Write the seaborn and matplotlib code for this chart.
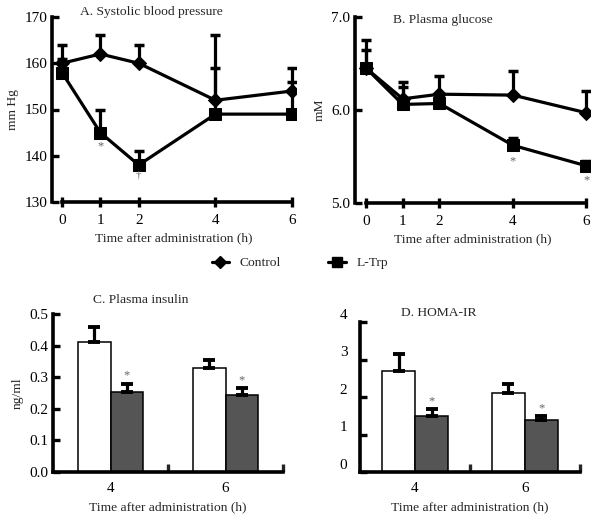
import numpy as np
import pandas as pd
import matplotlib.pyplot as plt
from matplotlib.lines import Line2D
from matplotlib.transforms import ScaledTranslation
import seaborn as sns

# data
times = [0, 1, 2, 4, 6]
sbp_ctrl = [160, 162, 160, 152, 154]
sbp_ctrl_err = [4, 4, 4, 14, 5]
sbp_trp = [158, 145, 138, 149, 149]
sbp_trp_err = [3, 5, 3, 10, 7]

glu_ctrl = [6.45, 6.12, 6.17, 6.16, 5.97]
glu_ctrl_err = [0.30, 0.18, 0.20, 0.26, 0.23]
glu_trp = [6.45, 6.06, 6.07, 5.62, 5.40]
glu_trp_err = [0.20, 0.19, 0.08, 0.08, 0.05]

bar_times = ['4', '6']
groups = ['Control', 'L-Trp']
ins_ctrl = [0.41, 0.33]
ins_ctrl_err = [0.05, 0.025]
ins_trp = [0.252, 0.245]
ins_trp_err = [0.028, 0.02]

homa_ctrl = [2.7, 2.1]
homa_ctrl_err = [0.45, 0.25]
homa_trp = [1.5, 1.4]
homa_trp_err = [0.18, 0.1]

sns.set_style('ticks')
plt.rcParams['font.family'] = ['Liberation Serif', 'DejaVu Serif']
plt.rcParams['font.size'] = 9.5

fig = plt.figure(figsize=(6, 5.23), dpi=100)
W, H = 600, 523
TICK_FS = 11
LAB_FS = 9.7


def px_axes(l, t, r, b):
    return fig.add_axes([l / W, 1 - b / H, (r - l) / W, (b - t) / H])


def style_axes(ax):
    for s in ['top', 'right']:
        ax.spines[s].set_visible(False)
    for s in ['left', 'bottom']:
        ax.spines[s].set_linewidth(2.6)
        ax.spines[s].set_color('black')
    ax.tick_params(direction='in', length=5, width=2.4, colors='black', labelsize=TICK_FS)


def line_panel(ax, ctrl, ce, trp, te, ylim, yticks, fmt):
    sns.lineplot(x=times, y=ctrl, marker='D', markersize=7.5, color='black',
                 linewidth=2.3, markeredgecolor='black', ax=ax)
    sns.lineplot(x=times, y=trp, marker='s', markersize=8, color='black',
                 linewidth=2.3, markeredgecolor='black', ax=ax)
    ax.errorbar(times, ctrl, yerr=[np.zeros(len(ce)), ce], fmt='none',
                ecolor='black', elinewidth=2.3, capsize=3.5, capthick=2.5)
    ax.errorbar(times, trp, yerr=[np.zeros(len(te)), te], fmt='none',
                ecolor='black', elinewidth=2.3, capsize=3.5, capthick=2.5)
    style_axes(ax)
    ax.set_ylim(*ylim)
    ax.set_yticks(yticks)
    ax.set_yticklabels([fmt.format(v) for v in yticks])
    ax.set_xticks(times)
    ax.spines['bottom'].set_bounds(0, 6)
    ax.set_xlabel('Time after administration (h)', fontsize=LAB_FS)
    ax.tick_params(axis='x', direction='inout', length=7, pad=5)


def bar_panel(ax, ctrl, ce, trp, te, ylim, yticks, fmt, width):
    df = pd.DataFrame({'time': bar_times * 2,
                       'group': [groups[0]] * 2 + [groups[1]] * 2,
                       'value': ctrl + trp})
    sns.barplot(data=df, x='time', y='value', hue='group', hue_order=groups,
                palette=['white', '#555555'], edgecolor='black', linewidth=1.1,
                width=width, errorbar=None, legend=False, ax=ax)
    bars = [p for p in ax.patches][:4]
    xs = [p.get_x() + p.get_width() / 2 for p in bars]
    tops = [p.get_height() for p in bars]
    errs = ce + te
    ax.errorbar(xs, tops, yerr=[np.zeros(4), errs], fmt='none', ecolor='black',
                elinewidth=2.3, capsize=4, capthick=2.8)
    style_axes(ax)
    ax.set_xlim(-0.5, 1.5)
    ax.set_ylim(*ylim)
    ax.set_yticks(yticks)
    ax.set_yticklabels([fmt.format(v) for v in yticks])
    ax.set_xticks([0, 1])
    ax.set_xticks([0.5, 1.5], minor=True)
    ax.tick_params(axis='x', which='major', length=0, pad=7)
    ax.tick_params(axis='x', which='minor', direction='in', length=6, width=2.4)
    ax.set_xlabel('Time after administration (h)', fontsize=LAB_FS, labelpad=5)
    ax.set_ylabel('')
    for x, t, e in zip(xs[2:], tops[2:], te):
        ax.text(x, t + e + (ylim[1] - ylim[0]) * 0.05, '*', ha='center',
                va='center', color='#666666', fontsize=9)
    return xs


# A. systolic blood pressure
axA = px_axes(52, 17, 296, 202)
line_panel(axA, sbp_ctrl, sbp_ctrl_err, sbp_trp, sbp_trp_err,
           (130, 170), [130, 140, 150, 160, 170], '{:.0f}')
axA.set_xlim(-0.26, 6.1)
axA.set_ylabel('mm Hg', fontsize=LAB_FS)
axA.text(0.406, 1.027, 'A. Systolic blood pressure', transform=axA.transAxes,
         ha='center', va='center', fontsize=LAB_FS)
axA.text(1, 142, '*', ha='center', va='center', color='#666666', fontsize=9)
axA.text(2, 135.8, '\u2020', ha='center', va='center', color='#666666', fontsize=8)

# B. plasma glucose
axB = px_axes(355, 17, 590, 203)
line_panel(axB, glu_ctrl, glu_ctrl_err, glu_trp, glu_trp_err,
           (5.0, 7.0), [5.0, 6.0, 7.0], '{:.1f}')
axB.set_xlim(-0.3, 6.1)
axB.set_ylabel('mM', fontsize=LAB_FS)
axB.text(0.374, 0.984, 'B. Plasma glucose', transform=axB.transAxes,
         ha='center', va='center', fontsize=LAB_FS)
axB.text(4, 5.45, '*', ha='center', va='center', color='#666666', fontsize=9)
axB.text(6, 5.24, '*', ha='center', va='center', color='#666666', fontsize=9)

# C. plasma insulin
axC = px_axes(53, 314, 283, 472)
bar_panel(axC, ins_ctrl, ins_ctrl_err, ins_trp, ins_trp_err,
          (0, 0.5), [0, 0.1, 0.2, 0.3, 0.4, 0.5], '{:.1f}', 0.56)
axC.set_ylabel('ng/ml', fontsize=LAB_FS)
axC.set_title('C. Plasma insulin', fontsize=LAB_FS, pad=8, x=0.38)

# D. HOMA-IR
axD = px_axes(360, 322, 580, 472)
bar_panel(axD, homa_ctrl, homa_ctrl_err, homa_trp, homa_trp_err,
          (0, 4), [0, 1, 2, 3, 4], '{:.0f}', 0.6)
axD.set_title('D. HOMA-IR', fontsize=LAB_FS, pad=4, x=0.36)
axD.tick_params(axis='y', pad=9)
for lab in axD.get_yticklabels():
    lab.set_transform(lab.get_transform() + ScaledTranslation(0, 6 / 72, fig.dpi_scale_trans))

# shared legend
handles = [Line2D([], [], color='black', marker='D', markersize=6.5, linewidth=2.3),
           Line2D([], [], color='black', marker='s', markersize=7, linewidth=2.3)]
fig.legend(handles, groups, loc='center', bbox_to_anchor=(0.5, 1 - 263 / H),
           ncol=2, frameon=False, handlelength=1.3, columnspacing=3.5,
           fontsize=LAB_FS, handletextpad=0.8)

fig.savefig('out.png', dpi=100)
